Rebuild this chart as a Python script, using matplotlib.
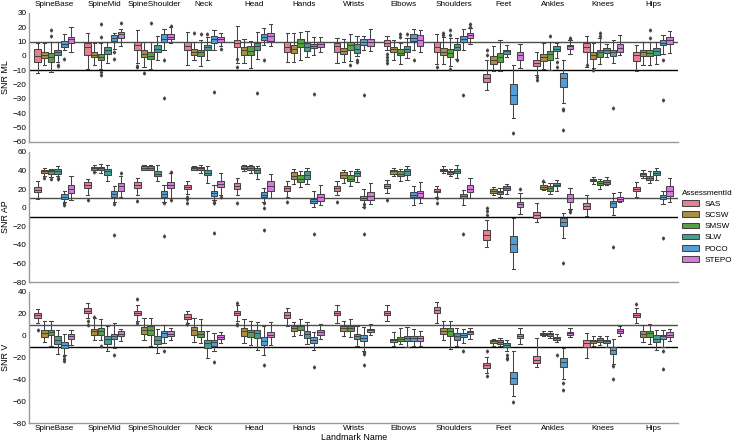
import colorsys
import matplotlib
matplotlib.use("Agg")
import matplotlib.pyplot as plt
from matplotlib.patches import Patch
import seaborn as sns

landmarks = ["SpineBase", "SpineMid", "SpineShoulder", "Neck", "Head", "Hands", "Wrists",
             "Elbows", "Shoulders", "Feet", "Ankles", "Knees", "Hips"]
assessments = ["SAS", "SCSW", "SMSW", "SLW", "POCO", "STEPO"]

# ---------------- SNR ML ----------------
ml_med = [[0.2, 0.7, -0.9, 3, 8.4, 11.8], [6, 0.7, -0.9, 4.2, 12.6, 15], [7.5, 1.5, 0, 5, 12, 13.5],
          [7, 3, 2.5, 6, 12, 11.5], [9, 4, 3.5, 7, 13.3, 13.7], [6.3, 4.9, 9.3, 6.3, 7.2, 8.4],
          [6.7, 3.5, 7.4, 5.1, 9.8, 9.8], [9, 4.7, 2.3, 5.1, 12.6, 10.9], [6.3, 2.8, 2.1, 6.3, 12, 14.4],
          [-15.3, -2.6, -0.7, 3.3, -27, 0.5], [-4.9, -0.7, 1.2, 5.1, -15.1, 6.7],
          [6.3, 0.5, 2.8, 4.4, 2.8, 5.6], [0.5, 2.8, 2.3, 3.3, 9.3, 10.9]]
ml_q1 = [[-4.4, -1.6, -4, 0.7, 6.5, 8.9], [0.7, -0.9, -2.8, 1.4, 10.5, 12.8], [4, -1, -2, 3, 10, 12],
         [4, 1, 0, 4, 9, 10], [6, 1, 1, 4.4, 11, 10.5], [2.8, 2.1, 6.3, 3.3, 5.6, 6.5],
         [2.8, 1.2, 4.4, 2.1, 7.9, 7], [7, 2.8, 0.5, 2.8, 10.5, 7], [2.8, 0.5, -0.7, 4.4, 9.8, 12.6],
         [-18.1, -5.3, -4.2, 1.6, -33.3, -2.6], [-7.2, -3.7, -2.6, 3.5, -21.6, 5.1],
         [2.8, -1.9, -0.7, 2.3, -0.2, 2.8], [-3.5, -0.2, -0.2, 0.5, 7.4, 8.1]]
ml_q3 = [[4.9, 3, 1.9, 4.2, 10.7, 13.5], [8.9, 3, 1.4, 6, 14.6, 16.5], [10, 4, 2.5, 7.5, 15, 15],
         [10, 5, 4.5, 8, 14, 13.5], [11, 6.3, 7, 9.3, 15.6, 16.3], [9.8, 7.9, 11.6, 9.3, 8.6, 9.5],
         [9.3, 5.6, 9.8, 8.6, 11.6, 12], [10.9, 6.3, 4.7, 7, 15.6, 14.4], [9.8, 5.6, 4.7, 8.6, 14, 16],
         [-12.3, -0.2, 2.1, 4.4, -19.8, 2.8], [-2.6, 1.6, 3.5, 6.7, -11.9, 7.9],
         [9.3, 2.8, 4.4, 5.6, 4.4, 8.1], [2.8, 4.4, 4, 5.6, 10.9, 13.3]]
ml_lo = [[-12, -6, -11, -4, 4, 3], [-9, -6, -9, -5, 5, 7], [-5, -8, -9, -3, 4, 9],
         [-6, -3, -7, -3, 4, 7], [-5, -5, -8.4, -2, 7.4, 7], [-4.2, -4.2, -2.5, -0.7, 0.5, 2.8],
         [-4.9, -4.2, -3.7, 0, 3.9, 3.5], [3.9, -2.5, -5.8, -1.2, 3.9, 2.8], [-5.8, -5.3, -7.2, -1.9, 3.9, 8.6],
         [-24, -10.7, -10.7, -0.7, -43, -8.1], [-13.5, -8.8, -10, -1.2, -32.6, 1.6],
         [-7.7, -8.4, -5.3, -0.7, -4.9, 0.9], [-10.7, -6, -6, -5.3, 1.6, 2.3]]
ml_hi = [[9, 9, 10, 10, 15, 20], [16, 9, 9, 10, 16, 19], [18, 10, 10, 14, 19, 20],
         [17, 10, 11, 13, 18, 16], [21, 12, 10.5, 16.5, 19.5, 22], [16, 16, 16.5, 17.4, 13, 13],
         [12.6, 11.6, 15.6, 13.7, 13.7, 19], [13.9, 10.9, 9.3, 12.6, 18.6, 17.9], [15.6, 13, 12.6, 12.6, 18.6, 19.3],
         [-3, 6.7, 11, 7.9, -6.5, 8.6], [2.8, 9, 9.8, 9, -2.6, 10.9],
         [14, 9, 12.6, 8.6, 11, 14.9], [7.9, 9.8, 9.8, 9.8, 14.9, 17.2]]
ml_fliers = [(0, 2, 14), (0, 2, 18), (0, 3, -6), (0, 3, -7), (0, 4, -2),
             (1, 2, 13), (1, 2, 22), (1, 2, -11), (1, 2, -13), (1, 4, 3), (1, 4, -2), (1, 5, 23),
             (2, 0, -7), (2, 0, -8), (2, 1, -12), (2, 2, 23), (2, 4, -3), (2, 4, -29), (2, 5, 21),
             (3, 1, 16), (3, 2, 15), (3, 3, 15), (3, 4, -25), (3, 5, 5),
             (4, 0, -2), (4, 0, -8), (4, 3, -25.6), (4, 4, -2.5),
             (5, 4, -26.7),
             (6, 2, -6.5), (6, 3, -2.5), (6, 3, -4), (6, 4, -27.4),
             (7, 0, 1.6), (7, 0, -1), (7, 0, -3), (7, 0, -5), (7, 2, 15.6), (7, 2, 13), (7, 3, 15), (7, 4, -3),
             (8, 0, -7.7), (8, 1, 16), (8, 1, 14.5), (8, 2, 18), (8, 2, 14.5), (8, 2, -9), (8, 3, -3),
             (8, 4, -27), (8, 5, 22.5), (8, 5, 20),
             (9, 0, 4), (9, 0, 0.5), (9, 4, -54),
             (10, 0, -15), (10, 0, -16.5), (10, 2, 14), (10, 3, -4), (10, 3, -7.7), (10, 4, -36.7),
             (10, 4, -38), (10, 4, -51.9), (10, 5, 12.5), (10, 5, 11.5),
             (11, 0, -6.5), (11, 1, -10), (11, 2, 16), (11, 2, 14), (11, 4, -36.3),
             (12, 2, 18), (12, 2, 12.5), (12, 4, -2.6), (12, 4, -30.5)]

# ---------------- SNR AP ----------------
ap_med = [[19.3, 39.3, 39, 39.6, 12, 20], [24, 42.5, 42.5, 39, 14.9, 23], [24.4, 43.3, 43.3, 36.7, 14.9, 24.4],
          [22.2, 42.9, 42.5, 37.5, 15.6, 25.8], [23.6, 43.3, 43.3, 40.4, 13.8, 23.6], [21.1, 34.5, 31.3, 35.6, 7.3, 11.3],
          [21.1, 35.6, 31.3, 37.5, 10.9, 12.7], [23.6, 39, 36.7, 39, 14.2, 15.6], [18.5, 40.7, 38.5, 40, 12.7, 20.4],
          [-29.8, 18.2, 16.7, 21.1, -38.9, 3.6], [-8, 22.2, 20.7, 24.7, -15.3, 10.9],
          [1.8, 29.8, 26.2, 28, 4.7, 9.5], [20, 36, 32.4, 37.8, 11.3, 17.5]]
ap_q1 = [[16.4, 37.5, 36.7, 36.7, 9.5, 15.6], [21.1, 41, 40.4, 35.6, 12, 18.5], [21.1, 41, 41, 33.8, 12, 21.1],
         [20, 41, 40.4, 34.9, 12.7, 22.2], [20.4, 41.8, 41, 37.5, 11.3, 18.5], [18.2, 31.3, 27.3, 31.3, 4.7, 7.6],
         [18.5, 32, 28.4, 33.8, 8.4, 8.4], [21.1, 36.4, 33.8, 35.6, 11.3, 12], [16.7, 39.3, 36.7, 37.5, 10.2, 16.4],
         [-34.5, 15.6, 14.9, 19.3, -48, 0.4], [-10.9, 20.4, 18.5, 22.9, -19.6, 6.5],
         [-1.8, 28.4, 24, 25.8, 1.1, 7.6], [17.5, 33.8, 30.2, 35.6, 9.1, 12.7]]
ap_q3 = [[22.2, 41, 40.4, 41.8, 14.5, 24], [27.3, 44, 44, 41.8, 17.5, 26.5], [27.3, 44.7, 44.7, 39.3, 18.2, 27.3],
         [24.7, 44, 44, 40.4, 18.5, 29], [26.5, 44.7, 44.7, 43, 16.4, 28.4], [23.6, 38.2, 34.9, 39.3, 9.1, 14.5],
         [23.6, 38.2, 34.9, 40, 12.7, 16.7], [25.8, 41, 39.3, 41.8, 16.4, 18.5], [20.4, 41.8, 40, 41.8, 14.9, 24],
         [-24.4, 20, 18.5, 22.9, -30.9, 6.5], [-5.1, 24, 22.9, 26.5, -11.6, 14.9],
         [5.5, 31.3, 28.4, 30.2, 7.3, 11.3], [22.2, 37.5, 34.5, 40, 13.8, 22.9]]
ap_lo = [[9.5, 33.8, 33.1, 33.8, 5.8, 8.4], [13.8, 38.5, 37.5, 28.4, 6.5, 11.3], [13.8, 40.4, 40.4, 28.4, 6.5, 10.2],
         [14.9, 40.4, 37.5, 26.5, 8.4, 13.8], [13.8, 39.3, 37.5, 30.9, 6.5, 10.2], [12, 25.8, 22.2, 25.5, 0.4, 2.9],
         [13.8, 26.5, 22.9, 27.3, 1.1, 4], [15.6, 33.8, 28.4, 30.2, 2.9, 4.7], [12, 37.5, 33.8, 32, 2.9, 10.2],
         [-41.8, 13.8, 12, 14.9, -66.2, -6.9], [-15.3, 19.3, 14.9, 17.5, -32.7, -1.5],
         [-9.1, 25.8, 20, 24.4, -8, 6.5], [11.3, 32, 26.5, 30.2, 4, 6.5]]
ap_hi = [[29, 42.9, 42.2, 44.7, 18.2, 33.8], [31, 46.5, 47.3, 46.5, 22.9, 33.8], [32, 45.5, 45.8, 46.5, 24.7, 37.5],
         [28.4, 44.7, 46.5, 44.7, 24.7, 37.5], [32, 45.8, 46.5, 44.7, 21.1, 36.4], [28.4, 41.8, 40, 43.3, 17.5, 24.7],
         [28.4, 40.7, 39.3, 41.8, 20, 26.5], [30.2, 43.3, 41.8, 44.7, 22.9, 27.6], [22.9, 44.7, 41.8, 45.5, 19.3, 32],
         [-12.7, 22.2, 21.1, 25.8, -11.6, 15.6], [4.7, 27.3, 26.5, 30.2, -6.2, 21.1],
         [13.8, 33.1, 31.3, 33.1, 15.6, 16.4], [27.3, 40.4, 39.3, 43.3, 17.5, 32]]
ap_fliers = [(0, 1, 32), (0, 2, 31), (0, 3, 32), (0, 3, 30.5), (0, 4, 4.7), (0, 4, 2.9),
             (1, 0, 8.4), (1, 1, 38), (1, 4, 4), (1, 4, -29), (1, 5, 37.5),
             (2, 0, 7.3), (2, 4, 4.7), (2, 4, -30.5), (2, 5, 38), (2, 5, 8.4),
             (3, 0, 12), (3, 0, 9), (3, 0, 4.7), (3, 4, 6.5), (3, 4, 4.7), (3, 4, -27), (3, 5, 11.3),
             (4, 0, 4.7), (4, 4, 4.7), (4, 4, -0.7), (4, 4, -23.6),
             (5, 0, 6.5), (5, 4, -28),
             (6, 0, 6.5), (6, 4, 4), (6, 4, 1.1), (6, 4, -28),
             (7, 0, 8.4),
             (8, 0, 10.2), (8, 0, 4.7), (8, 4, -28.7),
             (9, 0, -0.7), (9, 0, -4), (9, 0, -8), (9, 5, 20),
             (10, 1, 28.4), (10, 4, -60), (10, 5, -2.5), (10, 5, -4.4),
             (11, 4, -42.5), (12, 4, -32.4)]

# ---------------- SNR V ----------------
v_med = [[18.8, 2.5, 3.4, -4.3, -8.3, -0.6], [23, 4, 4, -3.1, -0.6, 1.8], [20.9, 4.9, 5.5, -3.7, 2.5, 1.8],
         [17.2, 4.9, 1.8, -6.8, -6.2, -1.2], [20.9, 4, 3.1, 2.5, -5.2, 0.9], [18.8, 7, 8.6, 1.5, -4.3, 3.1],
         [20.9, 7, 7, -0.6, -2.1, 4.9], [20.9, -4.3, -3.1, -2.1, -2.5, -2.1], [23.4, 4.6, 4, -0.6, 0.9, 3.1],
         [-26.8, -5.2, -5.5, -8.6, -38.5, 0], [-22.2, 1.5, 1.2, -2.5, -24.3, 2.5],
         [-6.8, -5.2, -3.7, -5.2, -12.9, 4.3], [19.1, 1.8, 2.5, -2.8, -0.6, 0.9]]
v_q1 = [[16.3, -1.2, 0.9, -7.4, -11.4, -3.1], [20.3, 0.9, 0.9, -7.4, -3.1, -0.6], [18.8, 1.5, 0.9, -7.4, -1.2, -0.6],
        [15.4, 0.9, -1.2, -11.4, -9.8, -3.1], [18.8, 0, -1.2, -2.1, -8.3, -1.5], [16.3, 4.6, 5.5, -2.1, -6.8, 0.9],
        [18.5, 4.6, 4, -2.8, -5.2, 3.1], [18.8, -5.8, -5.2, -5.2, -4.6, -5.2], [20.9, 1.5, 0, -4.3, -1.2, 1.5],
        [-29.2, -6.8, -7.4, -10.5, -44.6, -2.1], [-25.2, 0.3, 0, -3.7, -28.3, 0.9],
        [-10.8, -6.8, -5.8, -6.8, -16.9, 2.5], [16.9, -1.2, -1.2, -5.8, -3.1, -1.5]]
v_q3 = [[20.9, 5.5, 5.5, -0.6, -5.8, 1.5], [24.9, 6.5, 7, 0, 1.8, 4], [22.5, 7.7, 9.2, 0, 4, 4],
        [19.4, 8, 4, -4.3, -4.3, 0.9], [23, 7, 5.5, 4.9, -1.2, 3.1], [21.5, 9.2, 10.2, 4, -1.5, 4.9],
        [23, 9.2, 9.2, 1.8, 0.3, 6.5], [23, -2.8, -1.2, 0, -0.6, 0], [26.5, 7, 7, 2.5, 2.5, 4.6],
        [-24.6, -3.7, -3.7, -6.8, -32.9, 1.8], [-18.5, 2.5, 2.5, -1.2, -20.6, 3.4],
        [-3.7, -3.7, -2.1, -3.7, -10.5, 6.2], [20.9, 4, 4, 0.3, 0.9, 3.1]]
v_lo = [[11.7, -5.8, -9.8, -16.6, -17.8, -8.3], [16, -4.3, -3.7, -14.5, -11.4, -5.2], [13.2, -3.7, -9.2, -16, -6.8, -3.7],
        [11.7, -5.8, -6.8, -20.9, -14.5, -6.8], [13.2, -6.8, -8.3, -12.9, -17.8, -8.3], [8.6, 0, 0.9, -7.4, -13.5, -3.1],
        [11.7, -0.6, -1.2, -9.8, -14.5, 0.9], [13.2, -9.2, -7.4, -10.5, -9.8, -9.2], [11.7, -3.7, -12.3, -9.8, -6.8, -3.1],
        [-34.5, -9.2, -9.8, -14.5, -55.4, -7.4], [-28.9, -0.6, -2.1, -6.2, -40, -1.2],
        [-20.6, -9.2, -8.3, -10.5, -25.5, 0], [11.7, -6.2, -7.4, -12.9, -10.5, -5.2]]
v_hi = [[24.6, 13.2, 13.8, 5.5, 1.8, 4.9], [30, 16.3, 14.8, 8.6, 11.7, 6.2], [27.7, 16.3, 16.3, 6.2, 10.2, 7],
        [22.5, 16.3, 14.8, 4, 2.5, 3.1], [27.7, 14.8, 13.2, 12.6, 9.2, 12.6], [25.5, 12.3, 15.4, 12.3, 3.1, 11],
        [27.7, 13.8, 15.4, 9.2, 8, 10.5], [27.7, 3.1, 7, 8, 6.2, 4.6], [30.8, 13.8, 13.2, 7, 6.2, 7],
        [-19.1, -2.8, -2.1, -4.3, -14.5, 7], [-2.1, 4, 4, 1.8, -11.4, 7],
        [2.5, -0.6, 0, -0.6, -3.1, 9.2], [25.5, 10.2, 10.8, 4.9, 5.5, 6.2]]
v_fliers = [(0, 0, 5), (0, 4, -19), (0, 4, -21), (0, 4, -23),
            (1, 0, 13), (1, 0, 10), (1, 1, 17), (1, 2, -9.8), (1, 4, -17.5),
            (2, 0, 33.5), (2, 0, 11.7), (2, 4, -14.5),
            (3, 0, 11), (3, 0, 10.5), (3, 4, -23.7),
            (4, 0, 30), (4, 0, 11), (4, 0, 9.5), (4, 4, -26.8),
            (5, 4, -28.3),
            (6, 4, -26.8), (6, 4, -15.4), (6, 4, -16.9),
            (8, 4, -14.5),
            (9, 0, -14.5), (9, 0, -37), (9, 3, -17.8), (9, 3, -20), (9, 3, -21.5), (9, 4, -60.6),
            (10, 3, -17.8), (10, 4, -43), (10, 4, -49.8),
            (11, 4, -28), (11, 4, -40),
            (12, 0, 29), (12, 4, -14.5), (12, 4, -30.8)]

panels = [
    ("SNR ML", ml_med, ml_q1, ml_q3, ml_lo, ml_hi, ml_fliers, (-60, 30), list(range(-60, 31, 10))),
    ("SNR AP", ap_med, ap_q1, ap_q3, ap_lo, ap_hi, ap_fliers, (-80, 60), list(range(-80, 61, 20))),
    ("SNR V", v_med, v_q1, v_q3, v_lo, v_hi, v_fliers, (-80, 40), list(range(-80, 41, 20))),
]

plt.rcParams["font.family"] = ["Liberation Sans", "DejaVu Sans"]
FS = 5.9

pal = sns.color_palette("husl", len(assessments))
colors = [sns.desaturate(c, 0.75) for c in pal]
lum = min(colorsys.rgb_to_hls(*c)[1] for c in colors) * 0.6
gray = (lum, lum, lum)

fig = plt.figure(figsize=(7.33, 4.43), dpi=100)
axes_rects = [(0.040, 0.6795, 0.885, 0.2912),
              (0.040, 0.3634, 0.885, 0.2935),
              (0.040, 0.0451, 0.885, 0.2958)]

n_h = len(assessments)
group_w = 0.8
each_w = group_w / n_h
LW = 0.75

for pi, (ylabel, med, q1, q3, lo, hi, fliers, ylim, yticks) in enumerate(panels):
    ax = fig.add_axes(axes_rects[pi])
    ax.axhline(10, color="0.3", lw=1.0, zorder=0.5)
    ax.axhline(-10, color="black", lw=1.0, zorder=0.5)
    for j in range(n_h):
        stats, pos = [], []
        for i in range(len(landmarks)):
            fl = [v for (ci, hj, v) in fliers if ci == i and hj == j]
            stats.append(dict(med=med[i][j], q1=q1[i][j], q3=q3[i][j],
                              whislo=lo[i][j], whishi=hi[i][j], fliers=fl))
            pos.append(i - group_w / 2 + each_w * (j + 0.5))
        ax.bxp(stats, positions=pos, widths=each_w * 0.98, patch_artist=True,
               boxprops=dict(facecolor=colors[j], edgecolor=gray, linewidth=LW),
               medianprops=dict(color=gray, linewidth=LW),
               whiskerprops=dict(color=gray, linewidth=LW),
               capprops=dict(color=gray, linewidth=LW),
               flierprops=dict(marker="d", markersize=1.6, markerfacecolor=gray,
                               markeredgecolor=gray, linestyle="none"),
               manage_ticks=False)
    ax.set_xlim(-0.5, len(landmarks) - 0.5)
    ax.set_ylim(*ylim)
    ax.set_yticks(yticks)
    ax.set_yticklabels([str(t).replace("-", "\u2212") for t in yticks], fontsize=FS)
    ax.set_ylabel(ylabel, fontsize=6.4, labelpad=2)
    ax.set_xticks(range(len(landmarks)))
    for s in ("top", "right"):
        ax.spines[s].set_visible(False)
    for s in ("left", "bottom"):
        ax.spines[s].set_color("0.6")
        ax.spines[s].set_linewidth(1.0)
    ax.tick_params(axis="both", length=0, pad=2, labelsize=FS)
    if pi == 0:
        ax.xaxis.tick_top()
        ax.set_xticklabels(landmarks, fontsize=FS)
        ax.tick_params(axis="x", pad=3.5, length=0)
    elif pi == 1:
        ax.set_xticklabels([])
    else:
        ax.set_xticklabels(landmarks, fontsize=FS)
        ax.tick_params(axis="x", pad=1.5)
        ax.set_xlabel("Landmark Name", fontsize=6.4, labelpad=0.5)

handles = [Patch(facecolor=colors[j], edgecolor=gray, linewidth=LW, label=assessments[j])
           for j in range(n_h)]
fig.legend(handles=handles, title="AssessmentId", loc="center left",
           bbox_to_anchor=(0.921, 0.488), frameon=False, fontsize=FS, title_fontsize=FS,
           handlelength=2.0, handleheight=0.7, labelspacing=0.42, handletextpad=0.7,
           alignment="left")

fig.savefig("out.png", dpi=100)
